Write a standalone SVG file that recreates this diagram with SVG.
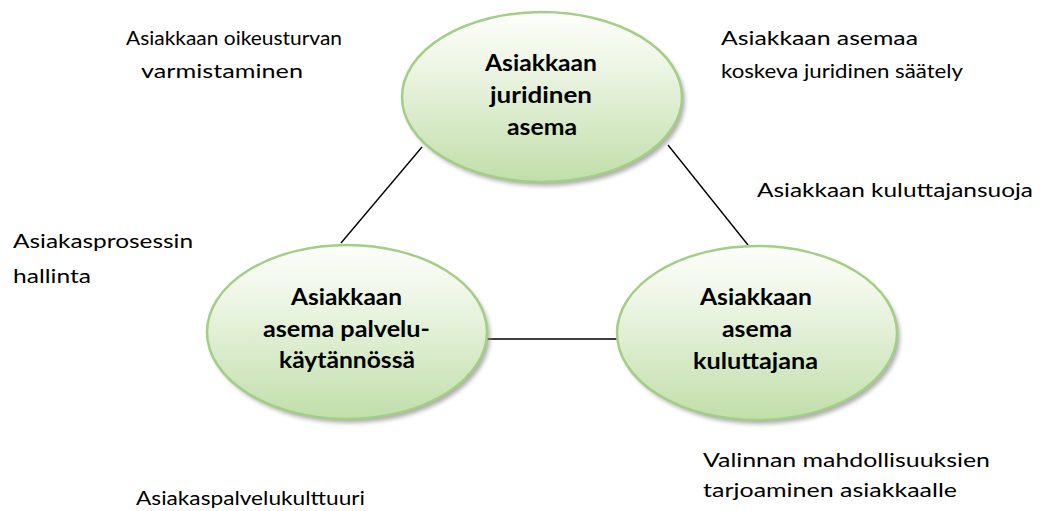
<svg xmlns="http://www.w3.org/2000/svg" width="1041" height="511" viewBox="0 0 1041 511">
<defs>
<linearGradient id="g" x1="0" y1="0" x2="0" y2="1">
<stop offset="0" stop-color="#fdfefb"/>
<stop offset="0.3" stop-color="#eef6e6"/>
<stop offset="1" stop-color="#c1deaa"/>
</linearGradient>
<filter id="sh" x="-20%" y="-20%" width="140%" height="140%">
<feGaussianBlur stdDeviation="2"/>
</filter>
</defs>
<style>
.node{fill:url(#g);stroke:#a3ce85;stroke-width:2.5}
.shadow{fill:#8c8c8c;opacity:0.7;filter:url(#sh)}
.nl{font-family:Lato,"Open Sans",sans-serif;font-weight:bold;font-size:23px;fill:#000}
.fl{font-family:Lato,"Open Sans",sans-serif;font-size:19.5px;fill:#000}
.conn{stroke:#000;stroke-width:1.4;fill:none}
</style>
<rect width="1041" height="511" fill="#fff"/>
<g id="connectors">
<line class="conn" x1="422" y1="147" x2="341" y2="243"/>
<line class="conn" x1="668" y1="145" x2="748" y2="245"/>
<line class="conn" x1="487" y1="339" x2="618" y2="339"/>
</g>
<g id="node-juridinen">
<ellipse class="shadow" cx="545" cy="101" rx="140" ry="85"/>
<ellipse class="node" cx="542" cy="97" rx="140" ry="85"/>
<text class="nl" x="485" y="71" textLength="112" lengthAdjust="spacingAndGlyphs">Asiakkaan</text>
<text class="nl" x="490" y="103" textLength="102" lengthAdjust="spacingAndGlyphs">juridinen</text>
<text class="nl" x="507" y="135" textLength="70" lengthAdjust="spacingAndGlyphs">asema</text>
</g>
<g id="node-palvelu">
<ellipse class="shadow" cx="350" cy="336" rx="140" ry="87"/>
<ellipse class="node" cx="347" cy="332" rx="140" ry="87"/>
<text class="nl" x="291" y="305" textLength="111" lengthAdjust="spacingAndGlyphs">Asiakkaan</text>
<text class="nl" x="263" y="337" textLength="167" lengthAdjust="spacingAndGlyphs">asema palvelu-</text>
<text class="nl" x="279" y="368" textLength="136" lengthAdjust="spacingAndGlyphs">käytännössä</text>
</g>
<g id="node-kuluttaja">
<ellipse class="shadow" cx="760" cy="337" rx="140" ry="87"/>
<ellipse class="node" cx="757" cy="333" rx="140" ry="87"/>
<text class="nl" x="700" y="305" textLength="112" lengthAdjust="spacingAndGlyphs">Asiakkaan</text>
<text class="nl" x="722" y="337" textLength="70" lengthAdjust="spacingAndGlyphs">asema</text>
<text class="nl" x="693" y="369" textLength="125" lengthAdjust="spacingAndGlyphs">kuluttajana</text>
</g>
<g id="labels">
<text class="fl" x="126" y="45" textLength="216" lengthAdjust="spacingAndGlyphs">Asiakkaan oikeusturvan</text>
<text class="fl" x="141" y="78" textLength="162" lengthAdjust="spacingAndGlyphs">varmistaminen</text>
<text class="fl" x="721" y="45" textLength="197" lengthAdjust="spacingAndGlyphs">Asiakkaan asemaa</text>
<text class="fl" x="721" y="78" textLength="242" lengthAdjust="spacingAndGlyphs">koskeva juridinen säätely</text>
<text class="fl" x="757" y="197" textLength="276" lengthAdjust="spacingAndGlyphs">Asiakkaan kuluttajansuoja</text>
<text class="fl" x="13" y="248" textLength="180" lengthAdjust="spacingAndGlyphs">Asiakasprosessin</text>
<text class="fl" x="13" y="283" textLength="78" lengthAdjust="spacingAndGlyphs">hallinta</text>
<text class="fl" x="703" y="467" textLength="287" lengthAdjust="spacingAndGlyphs">Valinnan mahdollisuuksien</text>
<text class="fl" x="703" y="497" textLength="254" lengthAdjust="spacingAndGlyphs">tarjoaminen asiakkaalle</text>
<text class="fl" x="136" y="505" textLength="229" lengthAdjust="spacingAndGlyphs">Asiakaspalvelukulttuuri</text>
</g>
</svg>
